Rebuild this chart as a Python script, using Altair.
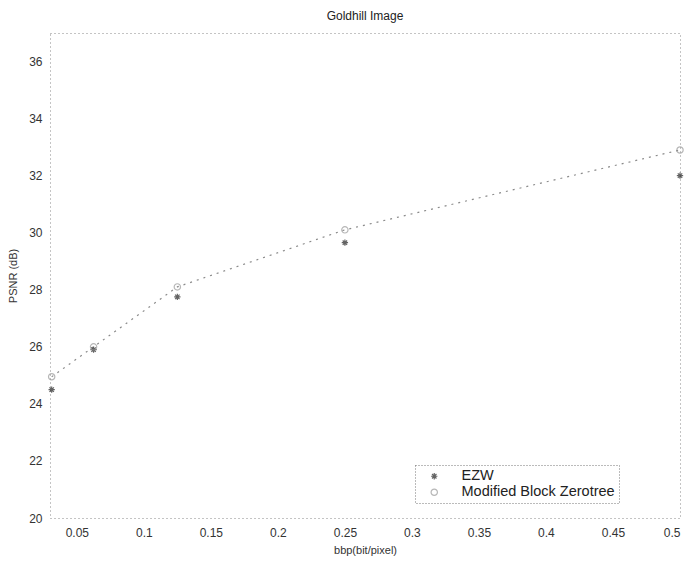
import altair as alt
import pandas as pd

bpp = [0.03125, 0.0625, 0.125, 0.25, 0.5]
ezw = [24.5, 25.9, 27.75, 29.65, 32.0]
mbz = [24.95, 26.0, 28.1, 30.1, 32.9]
series = ["EZW", "Modified Block Zerotree"]
x_ticks = [0.05, 0.1, 0.15, 0.2, 0.25, 0.3, 0.35, 0.4, 0.45, 0.5]
y_ticks = [20, 22, 24, 26, 28, 30, 32, 34, 36]

rows = []
for x, a, b in zip(bpp, ezw, mbz):
    rows.append({"bpp": x, "psnr": a, "method": series[0]})
    rows.append({"bpp": x, "psnr": b, "method": series[1]})
df = pd.DataFrame(rows)

star = "M-1,0L1,0M0,-1L0,1M-0.7,-0.7L0.7,0.7M-0.7,0.7L0.7,-0.7"

xenc = alt.X("bpp:Q", scale=alt.Scale(domain=[0.03, 0.5], nice=False, zero=False),
             axis=alt.Axis(values=x_ticks, title="bbp(bit/pixel)", format=".2~f",
                           grid=False, domain=False, ticks=False, labelPadding=9,
                           titlePadding=6))
yenc = alt.Y("psnr:Q", scale=alt.Scale(domain=[20, 37], nice=False, zero=False),
             axis=alt.Axis(values=y_ticks, title="PSNR (dB)", grid=False, domain=False,
                           ticks=False, labelPadding=8, titlePadding=10))

leg = alt.Legend(title=None, orient="none", legendX=365, legendY=432,
                 labelFontSize=14.5, labelFont="Liberation Sans",
                 labelColor="#222", symbolSize=40, padding=4,
                 rowPadding=1, symbolStrokeWidth=1.2, labelOffset=20, symbolOffset=8,
                 strokeColor="#777", labelLimit=300)

line = alt.Chart(df).transform_filter(alt.datum.method == series[1]).mark_line(
    color="#8a8a8a", strokeDash=[2, 5], strokeWidth=1.2
).encode(x=xenc, y=yenc)

pts = alt.Chart(df).mark_point(filled=False, strokeWidth=1.2, size=40).encode(
    x=xenc, y=yenc,
    shape=alt.Shape("method:N", scale=alt.Scale(domain=series, range=[star, "circle"]),
                    legend=leg),
    color=alt.Color("method:N", scale=alt.Scale(domain=series, range=["#222222", "#999999"]),
                    legend=leg),
)

chart = (line + pts).properties(
    width=630, height=485,
    title=alt.TitleParams("Goldhill Image", fontSize=12, font="Liberation Sans",
                          fontWeight="normal", color="#222", offset=10),
    padding={"left": 50, "top": 33, "right": 13, "bottom": 52},
    autosize=alt.AutoSizeParams(type="none"),
).configure_view(
    stroke="#888", strokeDash=[1, 3], strokeWidth=1
).configure_axis(
    labelFont="Liberation Sans", titleFont="Liberation Sans", labelFontSize=12,
    titleFontSize=11, titleFontWeight="normal", labelColor="#333", titleColor="#333"
).configure_legend(strokeDash=[1, 2])

chart.save("out.html", embed_options={"renderer": "svg", "actions": False})
